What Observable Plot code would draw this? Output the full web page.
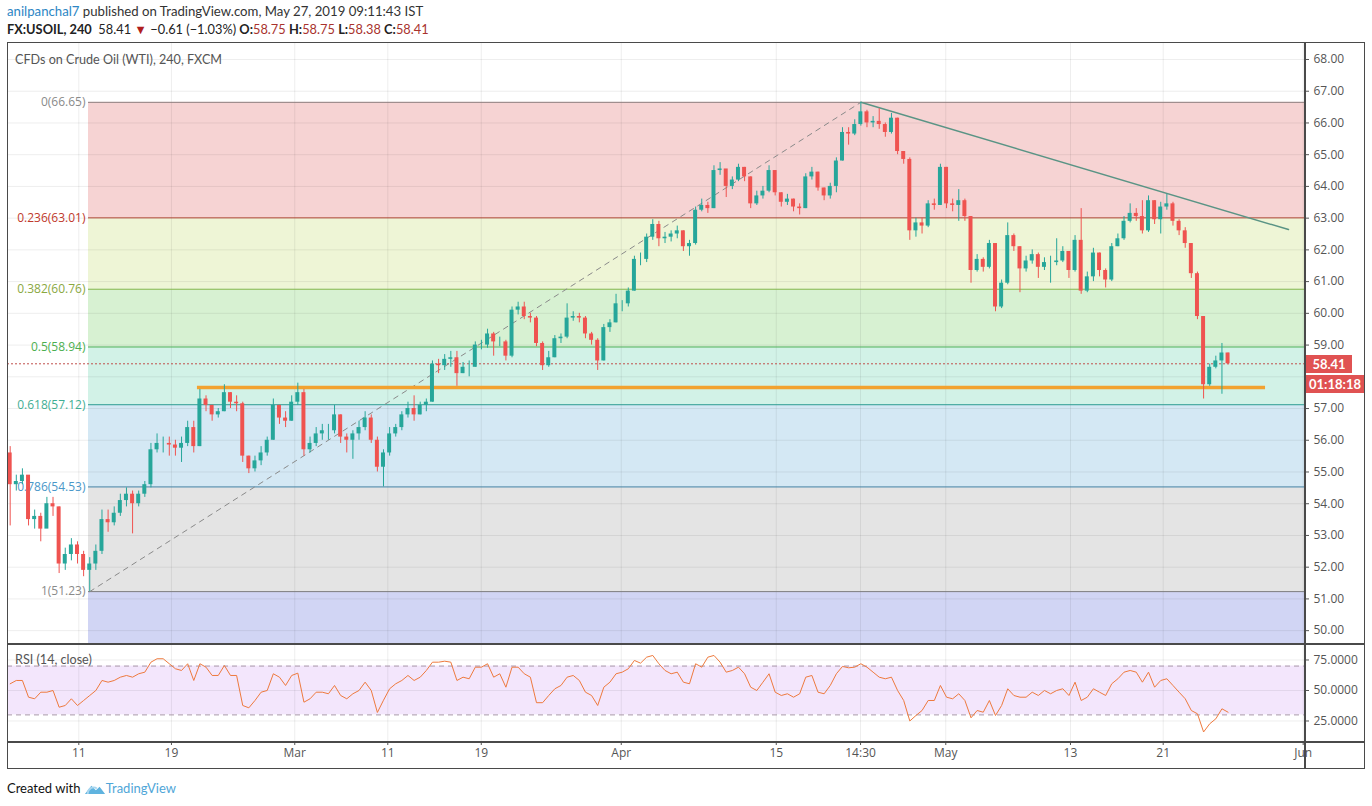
<!DOCTYPE html>
<html><head><meta charset="utf-8">
<script src="https://cdn.jsdelivr.net/npm/d3@7"></script>
<script src="https://cdn.jsdelivr.net/npm/@observablehq/plot@0.6"></script>
<style>
body{margin:0;background:#fff;overflow:hidden;font-family:Lato,sans-serif}
#root{position:relative;width:1372px;height:806px;overflow:hidden;background:#fff}
.abs{position:absolute;white-space:nowrap}
.r{color:#a8322d}
</style></head><body>
<div id="root"></div>
<script>
// ---------- data (8-hour sampling of the 4h chart) ----------
const firstOpen = 55.6;
const closes = [54.6,54.7,54.9,53.5,53.6,53.2,54.0,53.9,52.1,52.4,52.7,52.4,51.9,52.1,52.5,53.5,53.4,53.7,54.1,54.3,
54.0,54.3,54.6,55.7,55.9,55.9,55.85,55.75,55.9,56.4,55.8,57.3,57.1,56.8,56.9,57.5,57.2,57.15,55.5,55.1,
55.35,55.6,56.0,57.1,56.7,56.6,57.2,57.5,55.7,55.9,56.2,56.3,56.3,56.8,56.1,56.0,56.2,56.4,56.7,56.0,
55.15,55.6,56.2,56.4,56.8,57.0,56.8,57.1,57.2,58.4,58.35,58.55,58.6,58.1,58.3,58.3,59.0,59.0,59.35,59.1,
59.1,58.65,60.1,60.2,59.9,59.85,59.05,58.35,58.6,59.2,59.25,59.85,59.9,59.85,59.35,59.15,58.5,59.55,59.7,60.3,
60.3,60.7,61.7,61.7,62.4,62.8,62.35,62.4,62.5,62.6,62.1,62.2,63.25,63.4,63.3,64.5,64.55,64.0,64.2,64.6,
64.3,63.45,63.7,63.85,64.5,63.8,63.5,63.6,63.35,63.3,64.3,64.45,63.95,63.7,64.0,64.8,65.7,65.65,65.95,66.35,
66.0,66.05,65.95,65.7,66.15,65.1,64.85,62.6,62.85,62.75,63.45,63.4,64.6,63.45,63.4,63.55,63.05,61.35,61.7,61.45,
62.2,60.2,60.95,62.45,62.1,61.4,61.65,61.85,61.45,61.6,61.6,61.65,61.95,61.35,62.3,60.7,61.15,61.9,61.35,61.05,
62.1,62.35,62.9,63.15,63.05,62.6,63.55,62.95,63.35,63.45,62.9,62.6,62.2,61.25,59.9,57.75,58.3,58.5,58.75,58.41];
const highs = [55.8,54.9,55.1,54.8,53.8,53.7,54.2,54.2,53.9,52.6,52.9,52.8,52.5,52.3,52.7,53.8,53.8,53.9,54.3,54.5,
54.4,54.4,54.7,55.9,56.2,56.1,56.1,56.0,56.1,56.6,56.6,57.6,57.4,57.1,57.0,57.75,57.5,57.4,57.2,55.5,
55.5,55.8,56.1,57.3,57.1,56.9,57.4,57.8,57.6,56.1,56.4,56.5,56.5,57.1,56.8,56.2,56.3,56.6,56.9,56.8,
56.1,55.7,56.4,56.5,56.9,57.2,57.4,57.2,57.3,58.5,58.55,58.7,58.8,58.8,58.45,58.5,59.1,59.15,59.5,59.4,
59.25,59.15,60.2,60.35,60.35,60.0,59.9,59.1,58.8,59.3,59.35,60.3,60.05,60.0,59.9,59.4,59.2,59.65,59.8,60.6,
60.4,60.8,61.8,61.9,62.5,62.95,62.9,62.55,62.6,62.75,62.6,62.3,63.35,63.6,63.5,64.65,64.75,64.5,64.3,64.7,
64.6,64.3,63.85,64.0,64.65,64.5,63.8,63.75,63.6,63.45,64.4,64.6,64.45,63.95,64.1,64.9,65.85,65.85,66.1,66.65,
66.4,66.2,66.45,66.0,66.3,66.15,65.1,64.9,63.0,63.0,63.55,63.6,64.7,64.6,63.6,63.9,63.6,63.05,61.85,61.75,
62.3,62.2,61.05,62.85,62.5,62.1,61.8,62.0,61.9,61.75,61.8,62.35,62.1,61.95,62.45,63.3,61.3,62.05,61.9,61.4,
62.2,62.5,63.05,63.45,63.3,63.55,63.7,63.55,63.5,63.75,63.5,62.95,62.7,62.2,61.3,59.9,58.4,58.65,59.05,58.75];
const lows = [53.3,54.4,54.6,53.3,53.2,52.8,53.3,53.6,51.8,51.9,52.2,52.1,51.7,51.23,51.9,52.4,53.1,53.3,53.6,53.9,
53.05,53.9,54.2,54.5,55.6,55.6,55.5,55.5,55.3,55.8,55.6,55.8,56.9,56.6,56.7,56.9,57.0,56.9,55.3,54.95,
55.0,55.2,55.5,56.0,56.5,56.4,56.6,57.1,55.5,55.6,55.8,56.0,56.0,56.2,55.9,55.6,55.4,56.0,56.3,55.9,
55.0,54.53,55.5,56.1,56.3,56.7,56.6,56.8,56.9,57.2,58.1,58.2,58.3,57.7,58.1,58.0,58.3,58.85,58.9,58.65,
58.95,58.5,58.6,59.95,59.8,59.7,58.95,58.2,58.3,58.6,59.05,59.2,59.75,59.7,59.2,59.0,58.2,58.5,59.4,59.7,
60.05,60.2,60.7,61.5,61.6,62.3,62.1,62.2,62.25,62.35,61.95,61.8,62.15,63.2,63.15,63.3,64.35,63.65,63.9,64.15,
64.15,63.3,63.4,63.6,63.8,63.7,63.35,63.4,63.2,63.1,63.3,64.2,63.85,63.55,63.6,63.8,64.8,65.3,65.6,65.9,
65.85,65.85,65.8,65.55,65.65,65.0,64.7,62.3,62.4,62.5,62.7,63.25,63.4,63.3,63.2,62.9,62.9,60.95,61.3,61.3,
61.4,60.05,60.15,60.9,61.95,60.65,61.3,61.55,61.1,61.35,60.95,61.5,61.6,61.1,61.3,60.6,60.65,61.0,61.15,60.8,
61.0,62.1,62.3,62.85,62.9,62.5,62.55,62.8,62.5,63.25,62.75,62.45,62.05,61.1,59.8,57.3,57.7,58.25,57.45,58.38];
const rsiValues = [55.5,58.2,58.2,44.5,43.2,48.6,48.6,50,36.3,37.7,43.2,37.7,41.8,45.9,50,58.2,56.8,58.2,60.9,62.3,
60.9,63.7,65,73.2,76,76,71.9,67.8,66.4,71.9,58.2,71.9,69.1,62.3,62.3,70.5,62.3,62.3,37.7,35.8,
41.8,48.6,50,63.7,60.9,54.1,62.3,64.2,40.4,43.2,48.6,48.6,47.3,54.1,45.9,43.2,47.3,50,56.8,50,
32,42,51.4,55.5,58.2,62.3,58.2,60.9,66.4,73.2,73.2,74,73.2,58.2,60.9,59.6,69.1,69.1,71.9,60.9,
63.7,52.7,69.1,69.1,63.7,60.9,40,40,45.9,51.4,54.1,60.9,62.3,58.2,48.6,45.9,37.7,52.7,56.8,63.7,
65,67.8,74.6,72.4,77.3,78.7,71.9,66.4,63.7,65,56.8,55.5,71.9,69.1,77.3,78.7,73.2,65,66.4,69.1,
63.7,52.7,50,56.8,63.7,48.6,45.9,47.3,44.5,47.3,60.9,62.3,48.6,47.3,54.1,63.7,69.7,68.6,69.1,71.9,
69.1,65,60.9,59.6,60.9,50,41.8,25,29.5,33.6,41.8,41.8,54.1,44.5,43.2,47.3,41.8,27.6,33.6,32.2,
41.8,29.5,37.7,51.4,45.9,44.5,44.5,48.6,45.9,50,47.3,50,51.4,45.9,56.8,41.8,44.5,51.4,48.6,45.9,
55.5,59.6,65,66.4,65,56.8,65,52.7,58.2,59.6,54.1,48.6,43.2,33.6,30.9,16,22.7,26.8,35,32.2];
// time in trading days (Feb 11 = 0); first bar and bar spacing
const firstBarDay = -4.4, barStepDays = 0.4;
const tickDays   = [0.085, 6.14, 14.2, 20.28, 26.39, 35.54, 45.67, 51.18, 56.75, 64.9, 70.96, 80.11];
const tickLabels = ["11","19","Mar","11","19","Apr","15","14:30","May","13","21","Jun"];
const priceTicks = [50,51,52,53,54,55,56,57,58,59,60,61,62,63,64,65,66,67,68];
const rsiTicks = [25,50,75];
const fibRatios = [0,0.236,0.382,0.5,0.618,0.786,1];
const fibHigh = 66.65, fibLow = 51.23;
const fibLineColors  = ["#8d8080","#b23f36","#86b648","#4caf50","#2a9d8f","#3a80a8","#7d7d7d"];
const fibLabelColors = ["#8a8a8a","#c0392b","#8aa83f","#4caf50","#3fae94","#4a97c9","#8a8a8a"];
const fibBandColors  = ["#f6d3d3","#eef5d6","#d7f1d2","#d2f2e7","#d4e8f4","#e4e4e4","#d1d5f4"];
const supportLevel = 57.66, supportFromDay = 7.84, supportToDay = 77.65;
const trendEndDay = 79.15, trendEndPrice = 62.64;
const lastPrice = 58.41, lastOpen = 58.75, lastHigh = 58.75, lastLow = 58.38, change = -0.61, changePct = -1.03;
const countdown = "01:18:18";

// ---------- derived ----------
const up = "#26a69a", down = "#ef5350";
const bars = closes.map((c,i)=>({t:firstBarDay+i*barStepDays, open: i? closes[i-1] : firstOpen, close:c, high:highs[i], low:lows[i]}));
bars[bars.length-1].open = lastOpen;
const lowBar = d3.least(bars, d=>d.low), highBar = d3.greatest(bars, d=>d.high);
const xDomain = [-4.575, 80.196];
const fibLevels = fibRatios.map((r,k)=>({ratio:r, price: +(fibHigh - r*(fibHigh-fibLow)).toFixed(2), line: fibLineColors[k], label: fibLabelColors[k]}));
const yMin = 49.595, yMax = 68.504;
const bands = fibLevels.map((f,k)=>({hi:f.price, lo: k<fibLevels.length-1 ? fibLevels[k+1].price : yMin, fill: fibBandColors[k]}));
const fibStart = lowBar.t - 0.08;
const tickMap = new Map(tickDays.map((d,i)=>[d,tickLabels[i]]));
const fmt2 = d3.format(".2f");
// axis labels hidden behind the last-price tags (as in the original)
const priceLabelTicks = priceTicks.filter(t => t > lastPrice + 0.5 || t < lastPrice - 1);

const root = document.getElementById("root");
function div(html, style){const e=document.createElement("div");e.className="abs";e.style.cssText=style;e.innerHTML=html;root.appendChild(e);return e;}

// header
div(`<span style="color:#2d86c4">anilpanchal7</span> published on TradingView.com, May 27, 2019 09:11:43 IST`, "left:7px;top:3px;font-size:13.2px;color:#333");
div(`<b>FX:USOIL, 240</b>&nbsp; ${fmt2(lastPrice)} <span style="color:#b01e1e">▼</span> −${fmt2(-change)} (−${fmt2(-changePct)}%) <b>O:</b><span class="r">${fmt2(lastOpen)}</span> <b>H:</b><span class="r">${fmt2(lastHigh)}</span> <b>L:</b><span class="r">${fmt2(lastLow)}</span> <b>C:</b><span class="r">${fmt2(lastPrice)}</span>`, "left:7px;top:21px;font-size:12.8px;color:#222");

const grid = {stroke:"#000", strokeOpacity:0.07};
const price = Plot.plot({
  width:1358, height:600, marginLeft:0, marginRight:61, marginTop:0, marginBottom:0,
  x:{domain:xDomain, axis:null},
  y:{domain:[yMin,yMax], axis:null},
  color:{type:"identity"},
  style:{background:"transparent", fontFamily:"Open Sans, sans-serif", fontSize:"12px", overflow:"visible"},
  marks:[
    Plot.rect(bands, {x1:fibStart, x2:xDomain[1], y1:"lo", y2:"hi", fill:"fill"}),
    Plot.ruleY(priceTicks, grid),
    Plot.ruleX(tickDays, grid),
    Plot.ruleY(fibLevels, {y:"price", x1:fibStart, x2:xDomain[1], stroke:"line", strokeWidth:1}),
    Plot.text(fibLevels, {x:fibStart, y:"price", text:d=>`${d.ratio}(${fmt2(d.price)})`, textAnchor:"end", dx:-3, fill:"label", fontSize:12}),
    Plot.line([{t:lowBar.t,p:lowBar.low},{t:highBar.t,p:highBar.high}], {x:"t", y:"p", stroke:"#8a8a8a", strokeDasharray:"5,5", strokeWidth:1}),
    Plot.line([{t:highBar.t,p:highBar.high},{t:trendEndDay,p:trendEndPrice}], {x:"t", y:"p", stroke:"#5a9485", strokeWidth:1.5}),
    Plot.ruleY([supportLevel], {x1:supportFromDay, x2:supportToDay, stroke:"#f2a230", strokeWidth:3.5}),
    Plot.ruleY([lastPrice], {x1:xDomain[0], x2:xDomain[1], stroke:"#c0504d", strokeDasharray:"2,2", strokeWidth:1}),
    Plot.ruleX(bars, {x:"t", y1:"low", y2:"high", stroke:d=>d.close>=d.open?up:down, strokeWidth:1}),
    Plot.rect(bars, {x1:d=>d.t-0.13, x2:d=>d.t+0.13, y1:"open", y2:"close", fill:d=>d.close>=d.open?up:down}),
    Plot.axisY({anchor:"right", label:null, ticks:priceLabelTicks, tickFormat:fmt2, tickSize:4, tickPadding:5, color:"#555", fontSize:12})
  ]
});
price.style.position="absolute"; price.style.left="7px"; price.style.top="43px";
root.appendChild(price);

const rsi = Plot.plot({
  width:1358, height:126, marginLeft:0, marginRight:61, marginTop:0, marginBottom:28,
  x:{domain:xDomain, axis:null},
  y:{domain:[8.2,88.5], axis:null},
  style:{background:"transparent", fontFamily:"Open Sans, sans-serif", fontSize:"12px", overflow:"visible"},
  marks:[
    Plot.rect([{lo:30,hi:70}], {x1:xDomain[0], x2:xDomain[1], y1:"lo", y2:"hi", fill:"#f3e6fc"}),
    Plot.ruleY(rsiTicks, grid),
    Plot.ruleX(tickDays, grid),
    Plot.ruleY([30,70], {stroke:"#a898a8", strokeDasharray:"5,4"}),
    Plot.line(rsiValues.map((v,i)=>({t:bars[i].t, v})), {x:"t", y:"v", stroke:"#ee7a3e", strokeWidth:1}),
    Plot.axisY({anchor:"right", label:null, ticks:rsiTicks, tickFormat:d3.format(".4f"), tickSize:4, tickPadding:5, color:"#555", fontSize:12}),
    Plot.axisX({anchor:"bottom", label:null, ticks:tickDays, tickFormat:d=>tickMap.get(d), tickSize:4, tickPadding:3, color:"#555", fontSize:12})
  ]
});
rsi.style.position="absolute"; rsi.style.left="7px"; rsi.style.top="643px";
root.appendChild(rsi);

// pane labels
div("CFDs on Crude Oil (WTI), 240, FXCM", "left:15px;top:52px;font-size:12.6px;color:#555");
div("RSI (14, close)", "left:15px;top:652px;font-size:12.6px;color:#555");

// frame
div("", "left:7px;top:42px;width:1358px;height:727px;border:1.5px solid #4a4a4a;box-sizing:border-box");
div("", "left:7px;top:643px;width:1358px;height:1.5px;background:#4a4a4a");
div("", "left:7px;top:741px;width:1358px;height:1.5px;background:#4a4a4a");
div("", "left:1304px;top:42px;width:1.5px;height:727px;background:#4a4a4a");

// last price labels
const yLast = 43 + price.scale("y").apply(lastPrice);
div(fmt2(lastPrice), `left:1306px;top:${yLast-8}px;width:46px;height:18px;background:#e05252;color:#fff;font-weight:bold;font-size:13px;line-height:18px;text-align:center`);
div(countdown, `left:1306px;top:${yLast+12}px;width:58px;height:18px;background:#e05252;color:#fff;font-weight:bold;font-size:13px;line-height:18px;text-align:center`);

// footer
div(`Created with <svg width="22" height="13" viewBox="0 0 24 14" style="vertical-align:-2px"><path d="M1 13 L8 4 L13 9 L17 5 L23 13 Z" fill="#5fb3df"/><path d="M4 13 C4 7 10 4 14 7" stroke="#a8d6ef" stroke-width="2" fill="none"/></svg><span style="color:#4fa6d8">TradingView</span>`, "left:7px;top:780px;font-size:13px;color:#111");
</script>
</body></html>
